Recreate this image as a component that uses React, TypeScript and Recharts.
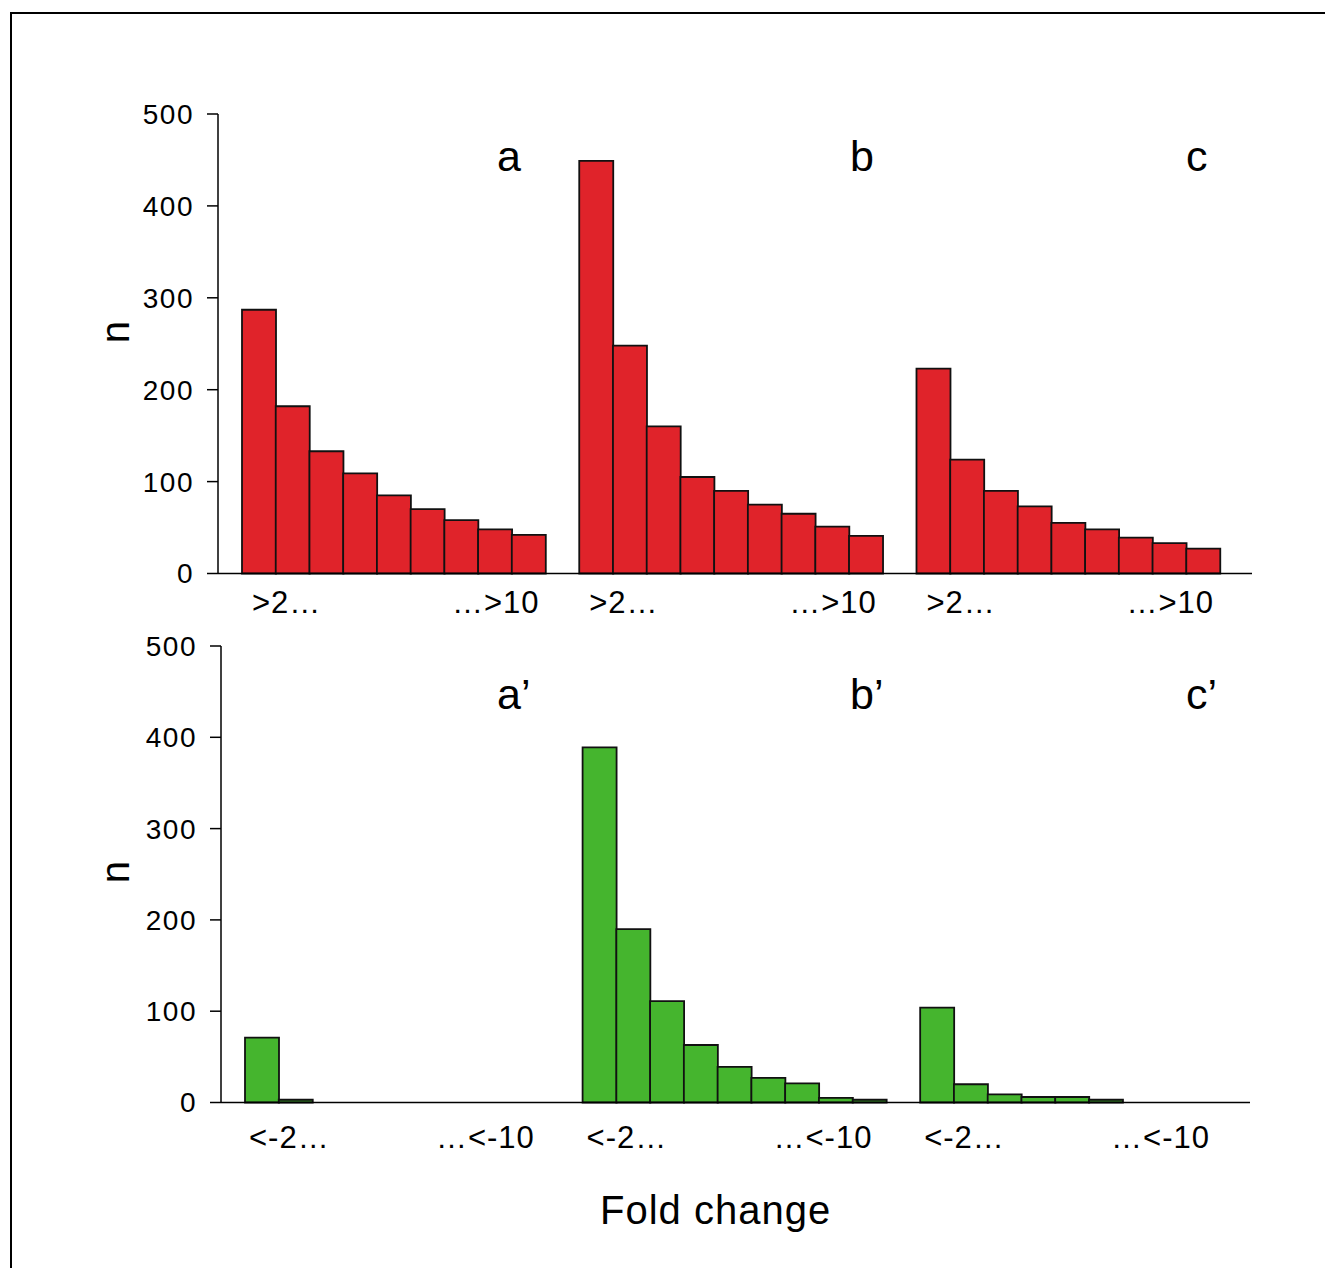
import { BarChart, Bar, XAxis, YAxis } from "recharts";

// counts per fold-change bin, 9 bins per condition
const upA = [287, 182, 133, 109, 85, 70, 58, 48, 42];
const upB = [449, 248, 160, 105, 90, 75, 65, 51, 41];
const upC = [223, 124, 90, 73, 55, 48, 39, 33, 27];

const downA = [71, 3, 0, 0, 0, 0, 0, 0, 0];
const downB = [389, 190, 111, 63, 39, 27, 21, 5, 3];
const downC = [104, 20, 9, 6, 6, 3, 0, 0, 0];

const upTicks = [">2…", "…>10"];
const downTicks = ["<-2…", "…<-10"];
const upLetters = ["a", "b", "c"];
const downLetters = ["a’", "b’", "c’"];
const yTicks = [0, 100, 200, 300, 400, 500];

const FONT = "'Liberation Sans', Arial, Helvetica, sans-serif";

interface Row {
  key: string;
  value: number | null;
  bin: number;
}

// three groups of 9 bins with an empty slot between them
function buildRows(groups: number[][]): Row[] {
  const rows: Row[] = [];
  groups.forEach((g, gi) => {
    g.forEach((v, i) => rows.push({ key: `${gi}-${i}`, value: v, bin: i }));
    if (gi < groups.length - 1) rows.push({ key: `gap${gi}`, value: null, bin: -1 });
  });
  return rows;
}

const upRows = buildRows([upA, upB, upC]);
const downRows = buildRows([downA, downB, downC]);

interface PanelProps {
  rows: Row[];
  labels: string[];
  color: string;
  top: number;
  height: number;
  marginTop: number;
  marginBottom: number;
  axisLeft: number;
  axisRight: number;
  padLeft: number;
  padRight: number;
  tickDy: number;
  startOffset: number;
  endOffset: number;
}

function Panel({ rows, labels, color, top, height, marginTop, marginBottom, axisLeft, axisRight, padLeft, padRight, tickDy, startOffset, endOffset }: PanelProps) {
  const slot = (axisRight - axisLeft - padLeft - padRight) / rows.length;

  const renderTick = (props: any) => {
    const row = rows[props.index] ?? rows.find(r => r.key === props.payload?.value);
    if (!row || (row.bin !== 0 && row.bin !== 8)) return <g />;
    const first = row.bin === 0;
    return (
      <text
        x={first ? props.x - slot / 2 + startOffset : props.x + slot / 2 - endOffset}
        y={props.y}
        dy={tickDy}
        textAnchor={first ? "start" : "end"}
        fontFamily={FONT}
        fontSize={31}
        letterSpacing={1}
        fill="#000"
      >
        {first ? labels[0] : labels[1]}
      </text>
    );
  };

  return (
    <div style={{ position: "absolute", left: 0, top }}>
      <BarChart
        width={1325}
        height={height}
        data={rows}
        barCategoryGap={0}
        margin={{ top: marginTop, right: 1325 - axisRight, bottom: marginBottom, left: 0 }}
      >
        <XAxis
          dataKey="key"
          type="category"
          interval={0}
          height={50}
          padding={{ left: padLeft, right: padRight }}
          tickLine={false}
          axisLine={{ stroke: "#000", strokeWidth: 1.5 }}
          tick={renderTick}
        />
        <YAxis
          width={axisLeft}
          domain={[0, 500]}
          ticks={yTicks}
          interval={0}
          tickSize={11}
          tickMargin={13}
          axisLine={{ stroke: "#000", strokeWidth: 1.5 }}
          tickLine={{ stroke: "#000", strokeWidth: 1.5 }}
          tick={{ fill: "#000", fontSize: 28, fontFamily: FONT, letterSpacing: 1.5 }}
        />
        <Bar dataKey="value" fill={color} stroke="#111" strokeWidth={1.8} isAnimationActive={false} />
      </BarChart>
    </div>
  );
}

const textStyle = { position: "absolute" as const, fontFamily: FONT, color: "#000", lineHeight: 1 };

export default function App() {
  return (
    <div style={{ position: "absolute", left: 0, top: 0, width: 1325, height: 1268, background: "#fff", overflow: "hidden" }}>
      <div style={{ position: "absolute", left: 10, top: 12, right: 0, bottom: 0, borderTop: "2px solid #000", borderLeft: "2px solid #000" }} />

      <Panel
        rows={upRows}
        labels={upTicks}
        color="#E0232A"
        top={0}
        height={640}
        marginTop={114}
        marginBottom={16.5}
        axisLeft={218}
        axisRight={1252}
        padLeft={24}
        padRight={32}
        tickDy={31}
        startOffset={10}
        endOffset={6}
      />
      <Panel
        rows={downRows}
        labels={downTicks}
        color="#45B52E"
        top={600}
        height={600}
        marginTop={46}
        marginBottom={47.5}
        axisLeft={221}
        axisRight={1250}
        padLeft={24}
        padRight={26}
        tickDy={37}
        startOffset={4}
        endOffset={14}
      />

      {upLetters.map((l, i) => (
        <div key={l} style={{ ...textStyle, fontSize: 43, left: [497, 850, 1186][i], top: 135 }}>{l}</div>
      ))}
      {downLetters.map((l, i) => (
        <div key={l} style={{ ...textStyle, fontSize: 43, left: [497, 850, 1186][i], top: 673 }}>{l}</div>
      ))}

      <div style={{ ...textStyle, fontSize: 40, left: 104, top: 312, transform: "rotate(-90deg)", transformOrigin: "center" }}>n</div>
      <div style={{ ...textStyle, fontSize: 40, left: 104, top: 852, transform: "rotate(-90deg)", transformOrigin: "center" }}>n</div>

      <div style={{ ...textStyle, fontSize: 40, letterSpacing: 1, left: 600, top: 1190 }}>Fold change</div>
    </div>
  );
}
